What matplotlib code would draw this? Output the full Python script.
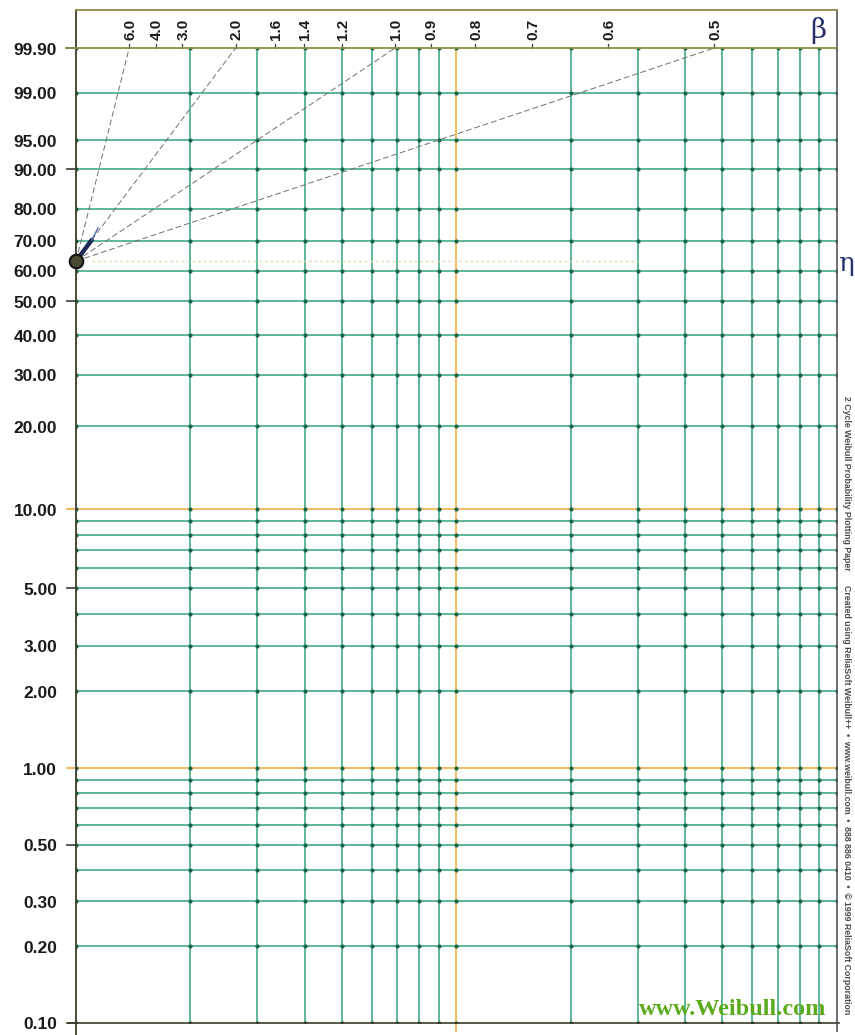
import numpy as np
import matplotlib
import matplotlib.pyplot as plt
import matplotlib.transforms as mtransforms

matplotlib.use("Agg")  # Non-interactive backend

plt.rcParams["font.family"] = ["Liberation Sans", "DejaVu Sans"]

# Unreliability levels (%) that get a horizontal rule
pct_lines = [99.9, 99, 95, 90, 80, 70, 60, 50, 40, 30, 20,
             10, 9, 8, 7, 6, 5, 4, 3, 2,
             1, 0.9, 0.8, 0.7, 0.6, 0.5, 0.4, 0.3, 0.2, 0.1]
pct_labels = [99.9, 99, 95, 90, 80, 70, 60, 50, 40, 30, 20,
              10, 5, 3, 2, 1, 0.5, 0.3, 0.2, 0.1]
pct_ticked = [99.9, 90, 50, 10, 5, 1, 0.5, 0.1]
pct_orange = [10, 1]

# Time rules over two log cycles
time_lines = [2, 3, 4, 5, 6, 7, 8, 9, 20, 30, 40, 50, 60, 70, 80, 90]
time_orange = [10]
time_min, time_max = 1, 100

# Shape parameter scale along the top edge, and guide lines drawn from the pole
beta_scale = [6.0, 4.0, 3.0, 2.0, 1.6, 1.4, 1.2, 1.0, 0.9, 0.8, 0.7, 0.6, 0.5]
beta_guides = [6.0, 2.0, 1.0, 0.5]

# Pole of the estimation scale (eta = 1 at 63.2 %)
pole_time = 1.0
pole_pct = 100 * (1 - np.exp(-1))
eta_line_end = 30

# Short pen stroke starting at the pole
stroke_time = [1.0, 1.10]
stroke_pct = [pole_pct, 70.2]
stroke_tail_time = [1.10, 1.143]
stroke_tail_pct = [70.2, 74.1]

GREEN = "#33a47c"
DOT = "#1a6644"
ORANGE = "#f2a83a"
FRAME = "#3b3b2c"
OLIVE = "#8f8b45"
NAVY = "#26306c"


def wb(p):
    """Weibull probability scale: ln(-ln(1 - F))."""
    return np.log(-np.log(1 - np.asarray(p, dtype=float) / 100))


W, H = 855, 1035
fig = plt.figure(figsize=(W / 100, H / 100), dpi=100)
ax = fig.add_axes([76 / W, 12.5 / H, 760.5 / W, 974.5 / H])
ax.set_xscale("log")
ax.set_xlim(time_min, time_max)
ax.set_ylim(wb(0.1), wb(99.9))
ax.set_xticks([])
ax.set_yticks([])
ax.minorticks_off()
for s in ax.spines.values():
    s.set_visible(False)

ylo, yhi = wb(0.1), wb(99.9)

# Grid
for p in pct_lines:
    if p in (0.1, 99.9):
        continue
    c = ORANGE if p in pct_orange else GREEN
    ax.plot([time_min, time_max], [wb(p)] * 2, color=c, lw=1.1, zorder=2)
for t in time_lines + time_orange:
    c = ORANGE if t in time_orange else GREEN
    ax.plot([t, t], [ylo, yhi], color=c, lw=1.1, zorder=2)
ax.plot([10, 10], [ylo, ylo - 8 / 110.2], color=ORANGE, lw=1.1, clip_on=False)

# Dots at every crossing
tt, pp = np.meshgrid([time_min] + time_lines + time_orange + [time_max], pct_lines)
ax.scatter(tt.ravel(), wb(pp.ravel()), s=9, color=DOT, zorder=3, lw=0)

# Frame: bottom rule, left rule, top rule, right rule
px = 1 / 760.5
py = 1 / 974.5
ax.plot([-8 * px, 1 + 2 * px], [0, 0], color=FRAME, lw=1.2,
        transform=ax.transAxes, clip_on=False, zorder=4)
ax.plot([0, 0], [-12 * py, 1 + 38 * py], color=FRAME, lw=1.3,
        transform=ax.transAxes, clip_on=False, zorder=4)
ax.plot([1, 1], [-8 * py, 1 + 38 * py], color="#555555", lw=1.2,
        transform=ax.transAxes, clip_on=False, zorder=4)
ax.plot([-10 * px, 1], [1, 1], color=OLIVE, lw=1.3,
        transform=ax.transAxes, clip_on=False, zorder=4)
ax.plot([0, 1], [1 + 38 * py] * 2, color=OLIVE, lw=1.3,
        transform=ax.transAxes, clip_on=False, zorder=4)

# Percent labels and left ticks
ytrans = mtransforms.blended_transform_factory(ax.transAxes, ax.transData)
for p in pct_ticked:
    c = ORANGE if p in pct_orange else FRAME
    ax.plot([-9 * px, 0], [wb(p)] * 2, color=c, lw=1.2,
            transform=ytrans, clip_on=False)
for p in pct_labels:
    ax.text(-19 * px, wb(p) - 2 / 110.2, f"{p:.2f}", transform=ytrans,
            ha="right", va="center", fontsize=12.5, fontweight="bold",
            color="#1a1a1a")

# Beta scale along the top
xtrans = mtransforms.blended_transform_factory(ax.transData, ax.transAxes)
for b in beta_scale:
    xb = np.exp(yhi / b)
    ax.plot([xb, xb], [1, 1 + 4 * py], color="#444444", lw=0.9,
            transform=xtrans, clip_on=False)
    ax.text(xb * 1.006, 1 + 19 * py, f"{b:.1f}", transform=xtrans,
            rotation=90, ha="center", va="center", fontsize=11,
            fontweight="bold", color="#1a1a1a")

# Slope guides from the pole
for b in beta_guides:
    t = np.geomspace(pole_time, np.exp(yhi / b), 60)
    ax.plot(t, b * np.log(t), color="#6f6f6f", lw=0.7,
            linestyle=(0, (6, 3)), zorder=5)

# Eta reference line and pole marker
ax.plot([1.1, eta_line_end], [wb(pole_pct)] * 2, color="#e4ddb0", lw=1.0,
        linestyle=(0, (2, 2)), zorder=2)
ax.plot(stroke_time, wb(stroke_pct), color="#1d2a55", lw=3.2,
        solid_capstyle="round", zorder=6)
ax.plot(stroke_tail_time, wb(stroke_tail_pct), color="#5566bb", lw=1.0,
        zorder=6)
ax.scatter([pole_time], wb([pole_pct]), s=95, color="#4b4a32",
           edgecolor="#111111", lw=1.5, zorder=7, clip_on=False)

# Symbols
fig.text(818 / W, 1 - 31 / H, "β", fontsize=20, family="DejaVu Serif",
         color=NAVY, ha="center", va="center")
fig.text(854 / W, 1 - 264 / H, "η", fontsize=19, family="DejaVu Serif",
         color=NAVY, ha="right", va="center")

# Side imprint and watermark
fig.text(846 / W, 1 - 396 / H,
         "2 Cycle Weibull Probability Plotting Paper      "
         "Created using ReliaSoft Weibull++  \u2022  www.weibull.com  \u2022  "
         "888 886 0410  \u2022  \u00a9 1999 ReliaSoft Corporation",
         rotation=270, ha="center", va="top", fontsize=6.3,
         fontweight="bold", color="#4a4a4a")
fig.text(826 / W, 1 - 1015 / H, "www.Weibull.com", family="Liberation Serif",
         fontsize=17.5, fontweight="bold", color="#5cab1f",
         ha="right", va="baseline", zorder=8)

fig.savefig("out.png", dpi=100, facecolor="white")
